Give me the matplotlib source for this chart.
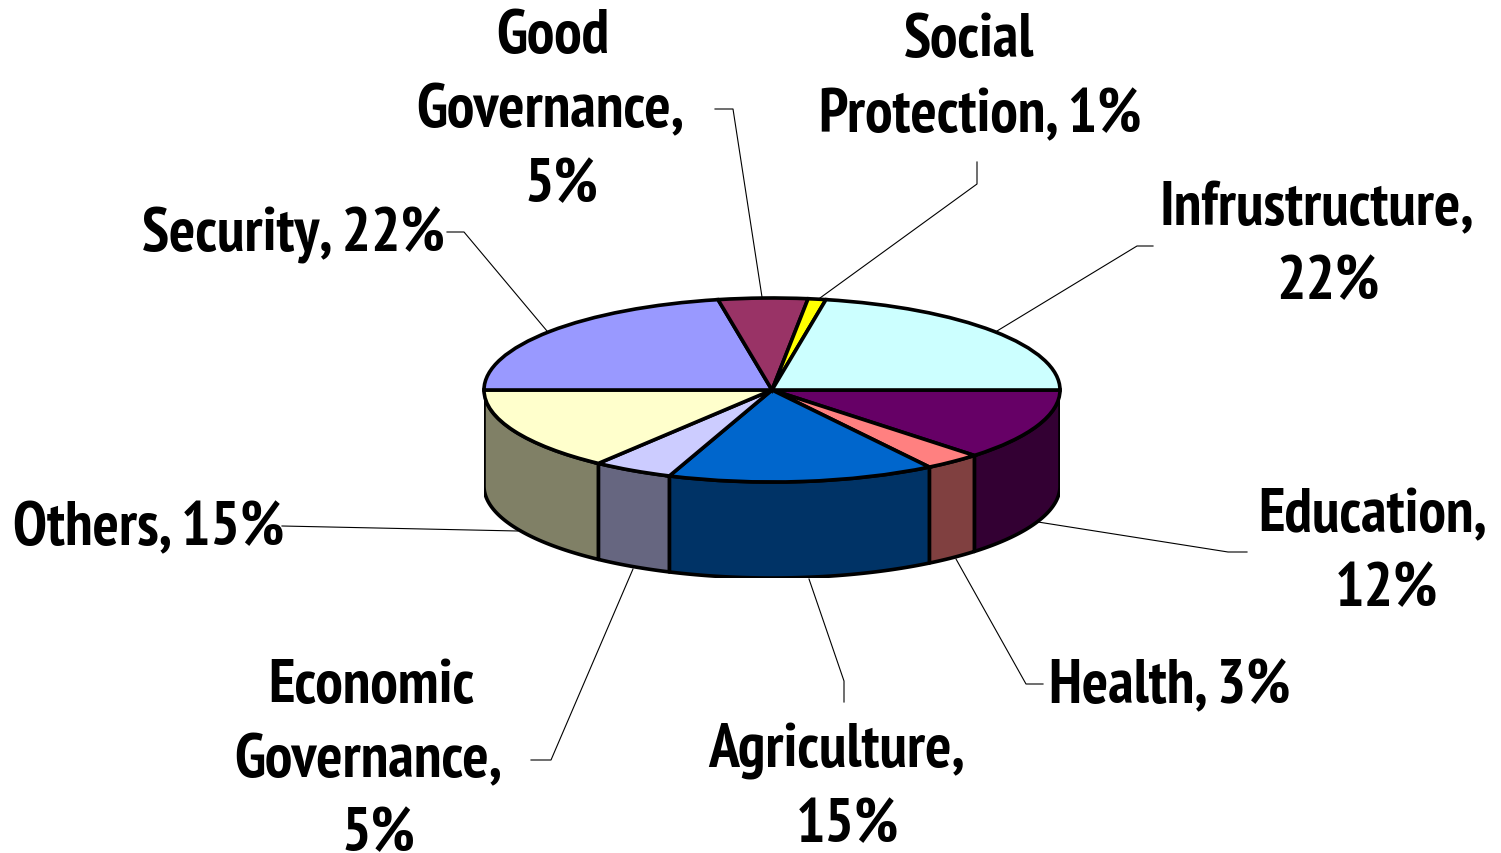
import numpy as np
import matplotlib
matplotlib.use('Agg')
import matplotlib.pyplot as plt

# Slices clockwise from the right-hand edge of the pie
categories = ['Education', 'Health', 'Agriculture', 'Economic Governance', 'Others',
              'Security', 'Good Governance', 'Social Protection', 'Infrustructure']
values = [12.6, 3.2, 15.0, 4.5, 14.7, 22, 5, 1, 22]
top_colors = ['#660066', '#FF8080', '#0066CC', '#CCCCFF', '#FFFFCC',
              '#9999FF', '#993366', '#FFFF00', '#CCFFFF']
side_colors = ['#330033', '#804040', '#003366', '#666680', '#808066',
               '#4C4C80', '#4C1A33', '#808000', '#668080']

# label lines, each with its centre x and baseline y in pixels
label_text = ['Education,', '12%', 'Health, 3%', 'Agriculture,', '15%', 'Economic', 'Governance,', '5%',
              'Others, 15%', 'Security, 22%', 'Good', 'Governance,', '5%', 'Social', 'Protection, 1%',
              'Infrustructure,', '22%']
label_x = [1373, 1386, 1170, 837, 847, 371, 368, 378, 149, 293, 553, 550, 561, 969, 980, 1317, 1328]
label_y = [532, 606, 703, 768, 842, 703, 777, 851, 545, 251, 53, 127, 202, 57, 132, 225, 299]

# leader lines in pixels
leaders = [[(1038, 523), (1228, 553), (1247, 553)],
           [(956, 560), (1026, 685), (1043, 685)],
           [(809, 580), (844, 682), (844, 703)],
           [(633, 570), (551, 761), (531, 761)],
           [(518, 532), (282, 527)],
           [(547, 332), (464, 233), (447, 233)],
           [(762, 298), (733, 110), (715, 110)],
           [(820, 299), (977, 185), (977, 163)],
           [(997, 332), (1137, 247), (1153, 247)]]

W, H = 1501, 854
cx, cy, rx, ry, depth = 772, 391, 288, 92, 96

fig = plt.figure(figsize=(W / 100, H / 100), dpi=100)

# pie axes in ellipse units: the squash comes from the axes size
ax = fig.add_axes([(cx - rx) / W, 1 - (cy + ry + depth) / H, 2 * rx / W, (2 * ry + depth) / H])
wedges, _ = ax.pie(values, colors=top_colors, startangle=0, counterclock=False, radius=1,
                   wedgeprops=dict(edgecolor='black', linewidth=2.6, zorder=5))
ax.set_aspect('auto')
ax.set_xlim(-1, 1)
ax.set_ylim(-1 - depth / ry, 1)

# side wall of every slice on the front half
edges = np.cumsum([0] + values) / sum(values) * 360
d = depth / ry
for i in range(len(values)):
    a0, a1 = edges[i], min(edges[i + 1], 180)
    if a0 >= 180:
        continue
    t = np.radians(np.linspace(a0, a1, 60))
    x = np.cos(t)
    y = -np.sin(t)
    ax.fill(np.r_[x, x[::-1]], np.r_[y, y[::-1] - d], facecolor=side_colors[i],
            edgecolor='black', linewidth=2.6, joinstyle='round', zorder=3)

# overlay in pixel coordinates for the labels
ov = fig.add_axes([0, 0, 1, 1])
ov.set_xlim(0, W)
ov.set_ylim(H, 0)
ov.axis('off')
ov.patch.set_alpha(0)

for pts in leaders:
    ov.plot([p[0] for p in pts], [p[1] for p in pts], color='black', linewidth=0.8)

for s, x, y in zip(label_text, label_x, label_y):
    ov.text(x, y, s, ha='center', va='baseline', family=['PT Sans Narrow', 'Liberation Sans'],
            fontweight='bold', fontsize=44.5, color='black')

fig.savefig('out.png', dpi=100)
